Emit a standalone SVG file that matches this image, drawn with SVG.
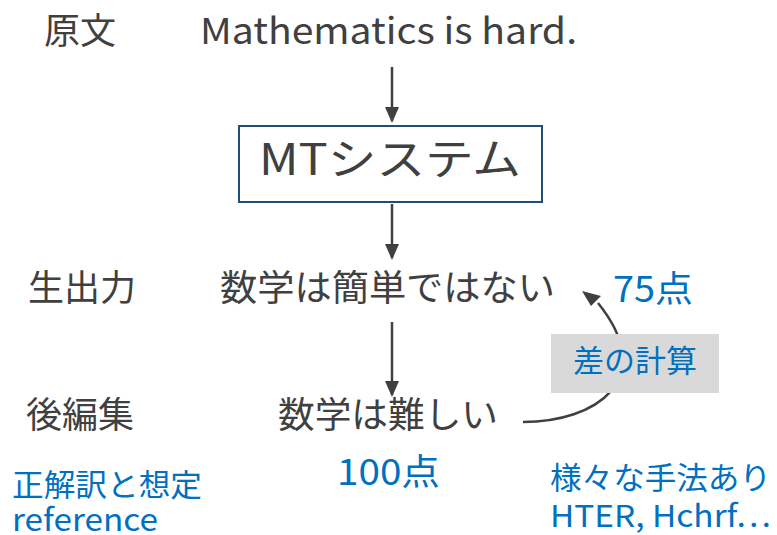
<svg xmlns="http://www.w3.org/2000/svg" width="777" height="535" viewBox="0 0 777 535">
<defs>
<style>
text{font-family:"Noto Sans CJK JP","Noto Sans",sans-serif;}
.g{fill:#404040;font-size:36px;}
.b{fill:#0070c0;}
.n{font-size:30.5px;}
.conn{stroke:#404040;stroke-width:2.5;fill:none;}
</style>
<marker id="ah2" markerWidth="16" markerHeight="14" refX="14" refY="7" orient="auto" markerUnits="userSpaceOnUse" viewBox="0 0 16 14">
<path d="M0,0 L16,7 L0,14 z" fill="#404040"/>
</marker>
</defs>
<rect width="777" height="535" fill="#ffffff"/>
<g id="connectors">
<line class="conn" x1="392" y1="67" x2="392" y2="121" marker-end="url(#ah2)"/>
<line class="conn" x1="392" y1="204" x2="392" y2="258" marker-end="url(#ah2)"/>
<line class="conn" x1="392" y1="322" x2="392" y2="395" marker-end="url(#ah2)"/>
<path class="conn" d="M523,422 C595,422 660,380 598,303" />
<path d="M582,291 L601,296 L591,306 z" fill="#404040"/>
</g>
<g id="label-genbun"><text class="g" x="44" y="44">原文</text></g>
<g id="source"><text class="g" x="200" y="44" textLength="377" lengthAdjust="spacingAndGlyphs">Mathematics is hard.</text></g>
<g id="mt">
<rect x="239" y="126" width="303" height="76" fill="#ffffff" stroke="#1f4e79" stroke-width="2"/>
<text class="g" x="390" y="175" text-anchor="middle" style="font-size:43px" textLength="262" lengthAdjust="spacingAndGlyphs">MTシステム</text>
</g>
<g id="label-raw"><text class="g" x="28" y="301">生出力</text></g>
<g id="raw"><text class="g" x="220" y="301" textLength="335" lengthAdjust="spacingAndGlyphs">数学は簡単ではない</text></g>
<g id="score75"><text class="g b" x="613" y="302" textLength="80" lengthAdjust="spacingAndGlyphs">75点</text></g>
<g id="label-post"><text class="g" x="26" y="428">後編集</text></g>
<g id="post"><text class="g" x="278" y="428" textLength="220" lengthAdjust="spacingAndGlyphs">数学は難しい</text></g>
<g id="diff">
<rect x="551" y="334" width="168" height="59" fill="#d9d9d9"/>
<text class="b" x="635" y="372" text-anchor="middle" style="font-size:31px">差の計算</text>
</g>
<g id="score100"><text class="g b" x="337" y="485" textLength="103" lengthAdjust="spacingAndGlyphs">100点</text></g>
<g id="ref-note">
<text class="b n" x="12" y="496" textLength="190" lengthAdjust="spacingAndGlyphs">正解訳と想定</text>
<text class="b n" x="12" y="531" textLength="146" lengthAdjust="spacingAndGlyphs">reference</text>
</g>
<g id="method-note">
<text class="b n" x="550" y="489" textLength="221" lengthAdjust="spacingAndGlyphs">様々な手法あり</text>
<text class="b n" x="550" y="527" textLength="221" lengthAdjust="spacingAndGlyphs">HTER, Hchrf…</text>
</g>
</svg>
